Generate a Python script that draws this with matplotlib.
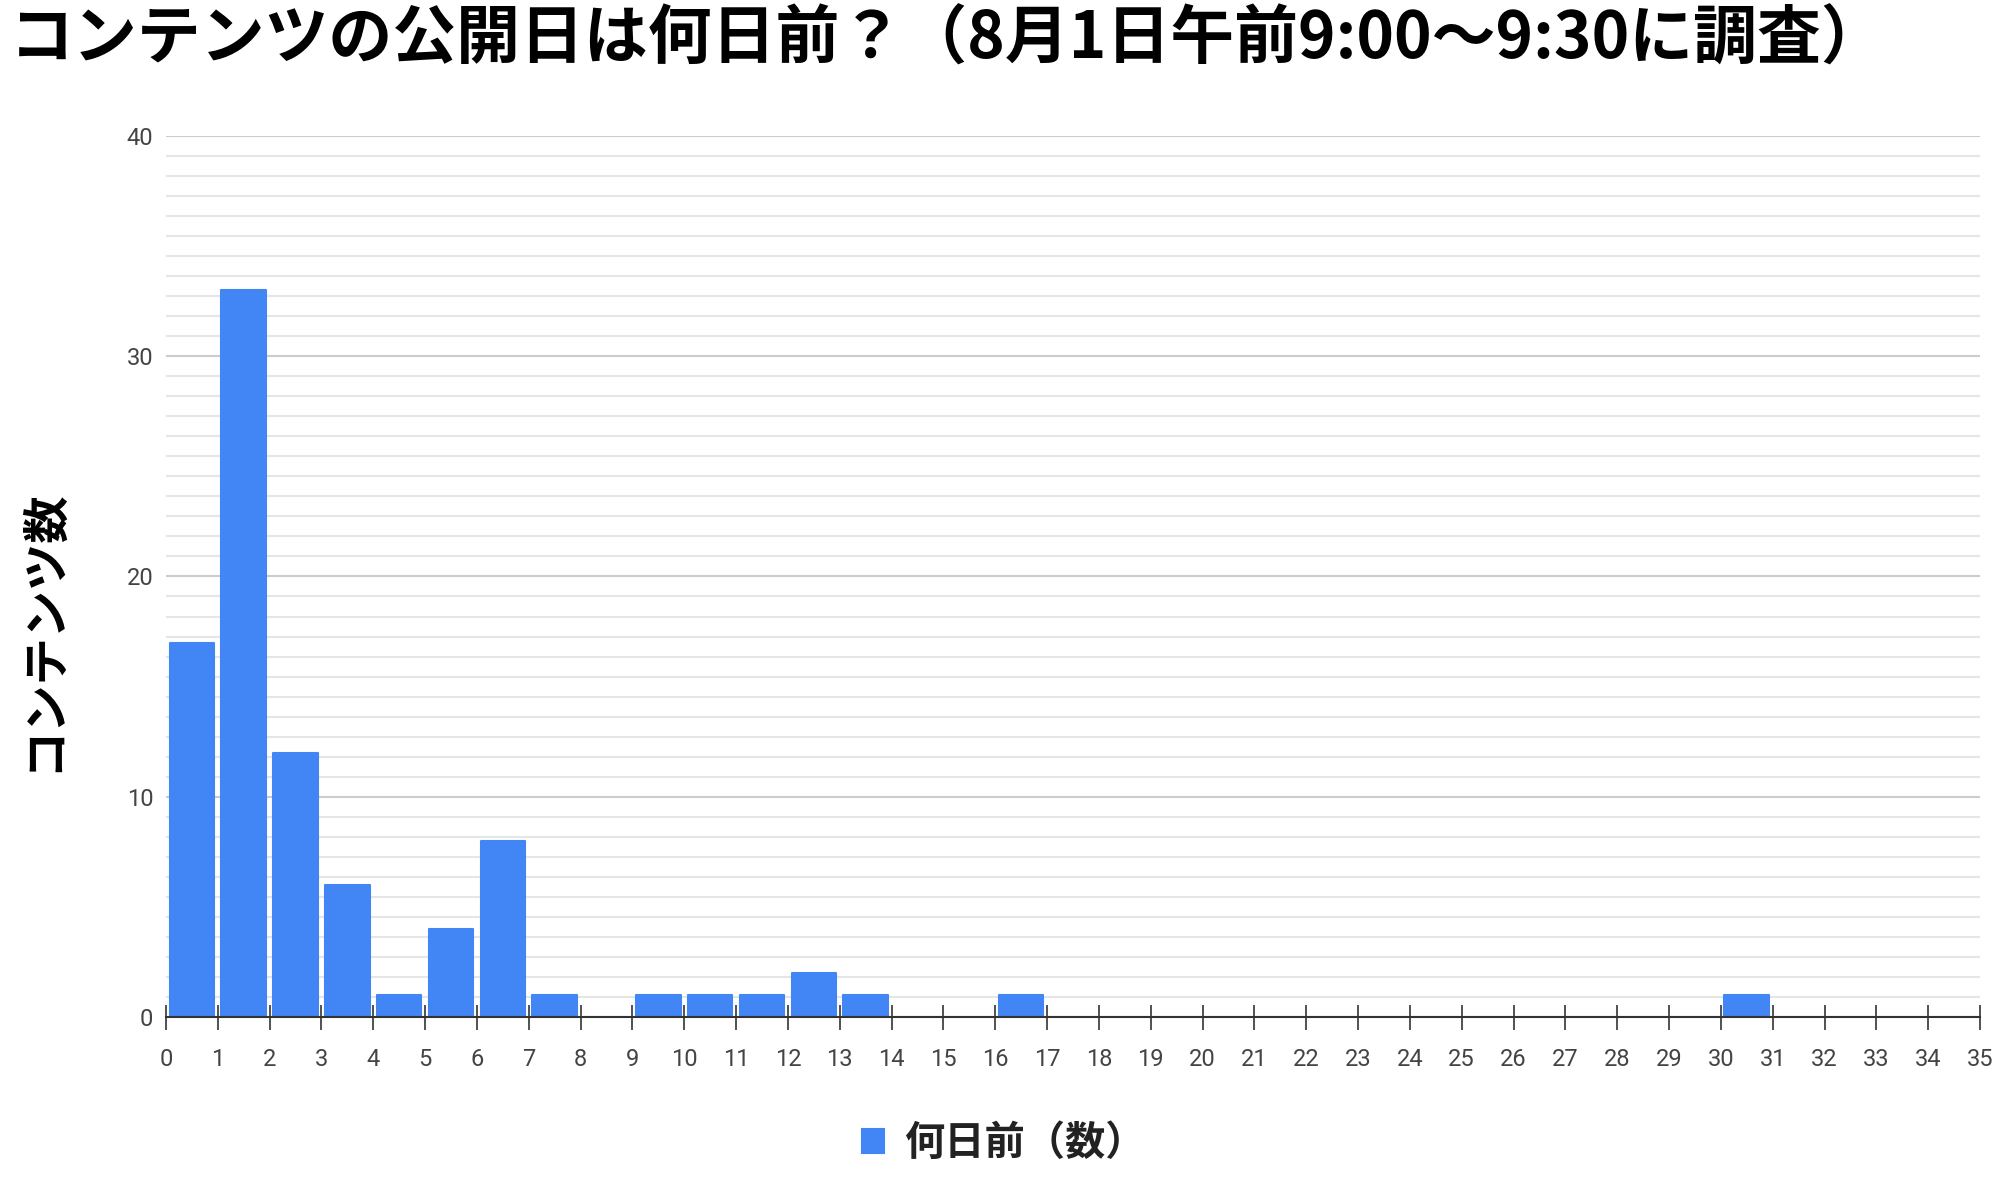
import matplotlib
matplotlib.use("Agg")
import matplotlib.pyplot as plt
import numpy as np

# ---- data ----
title_text = "コンテンツの公開日は何日前？（8月1日午前9:00～9:30に調査）"
y_label = "コンテンツ数"
series_name = "何日前（数）"
day_bins = list(range(0, 35))
counts = [17, 33, 12, 6, 1, 4, 8, 1, 0, 1,
          1, 1, 2, 1, 0, 0, 1, 0, 0, 0,
          0, 0, 0, 0, 0, 0, 0, 0, 0, 0,
          1, 0, 0, 0, 0]
x_ticks = list(range(0, 36))
y_ticks = [0, 10, 20, 30, 40]

BLUE = "#4285F4"
CJK = ["Noto Sans CJK JP", "DejaVu Sans"]
NUM = ["Roboto", "DejaVu Sans"]

fig = plt.figure(figsize=(19.99, 11.78), dpi=100)
ax = fig.add_axes([0.0830, 0.1367, 0.9075, 0.7479])

# gridlines
minor = []
for k in range(4):
    for j in range(1, 11):
        minor.append(y_ticks[k] + j * 10 / 11)
ax.set_yticks(y_ticks)
ax.set_yticks(minor, minor=True)
ax.yaxis.grid(True, which="major", color="#cccccc", linewidth=1.5)
ax.yaxis.grid(True, which="minor", color="#e6e6e6", linewidth=1.5)
ax.set_axisbelow(True)

xs = np.array([b for b, c in zip(day_bins, counts) if c > 0]) + 0.5
hs = [c for c in counts if c > 0]
bars = ax.bar(xs, hs, width=0.86, color=BLUE, edgecolor=BLUE,
              linewidth=1.5, label=series_name, zorder=2)
for b in bars:
    b.set_joinstyle("round")

ax.set_xlim(0, 35)
ax.set_ylim(0, 40)
ax.set_xticks(x_ticks)
ax.set_xticklabels([str(t) for t in x_ticks])

for s in ["top", "right", "left"]:
    ax.spines[s].set_visible(False)
ax.spines["bottom"].set_color("#333333")
ax.spines["bottom"].set_linewidth(1.5)
ax.spines["bottom"].set_zorder(3)

ax.tick_params(axis="x", direction="inout", length=18, width=1.2,
               color="#333333", pad=13, labelsize=17, labelcolor="#444444")
ax.tick_params(axis="y", which="both", length=0, pad=9,
               labelsize=17, labelcolor="#444444")
for lab in ax.get_xticklabels() + ax.get_yticklabels():
    lab.set_fontfamily(NUM)

fig.text(0.005, 0.966, title_text, ha="left", va="center",
         fontsize=46, fontweight="bold", family=CJK, color="#000000")
fig.text(0.0215, 0.465, y_label, ha="center", va="center", rotation=90,
         fontsize=34, fontweight="bold", family=CJK, color="#000000")

leg = fig.legend(handles=[bars], labels=[series_name], loc="center",
                 bbox_to_anchor=(0.502, 0.029), frameon=False,
                 prop={"family": CJK, "size": 29, "weight": "bold"},
                 handlelength=0.55, handleheight=0.55, handletextpad=0.5)
for t in leg.get_texts():
    t.set_color("#222222")

fig.savefig("out.png", dpi=100)
